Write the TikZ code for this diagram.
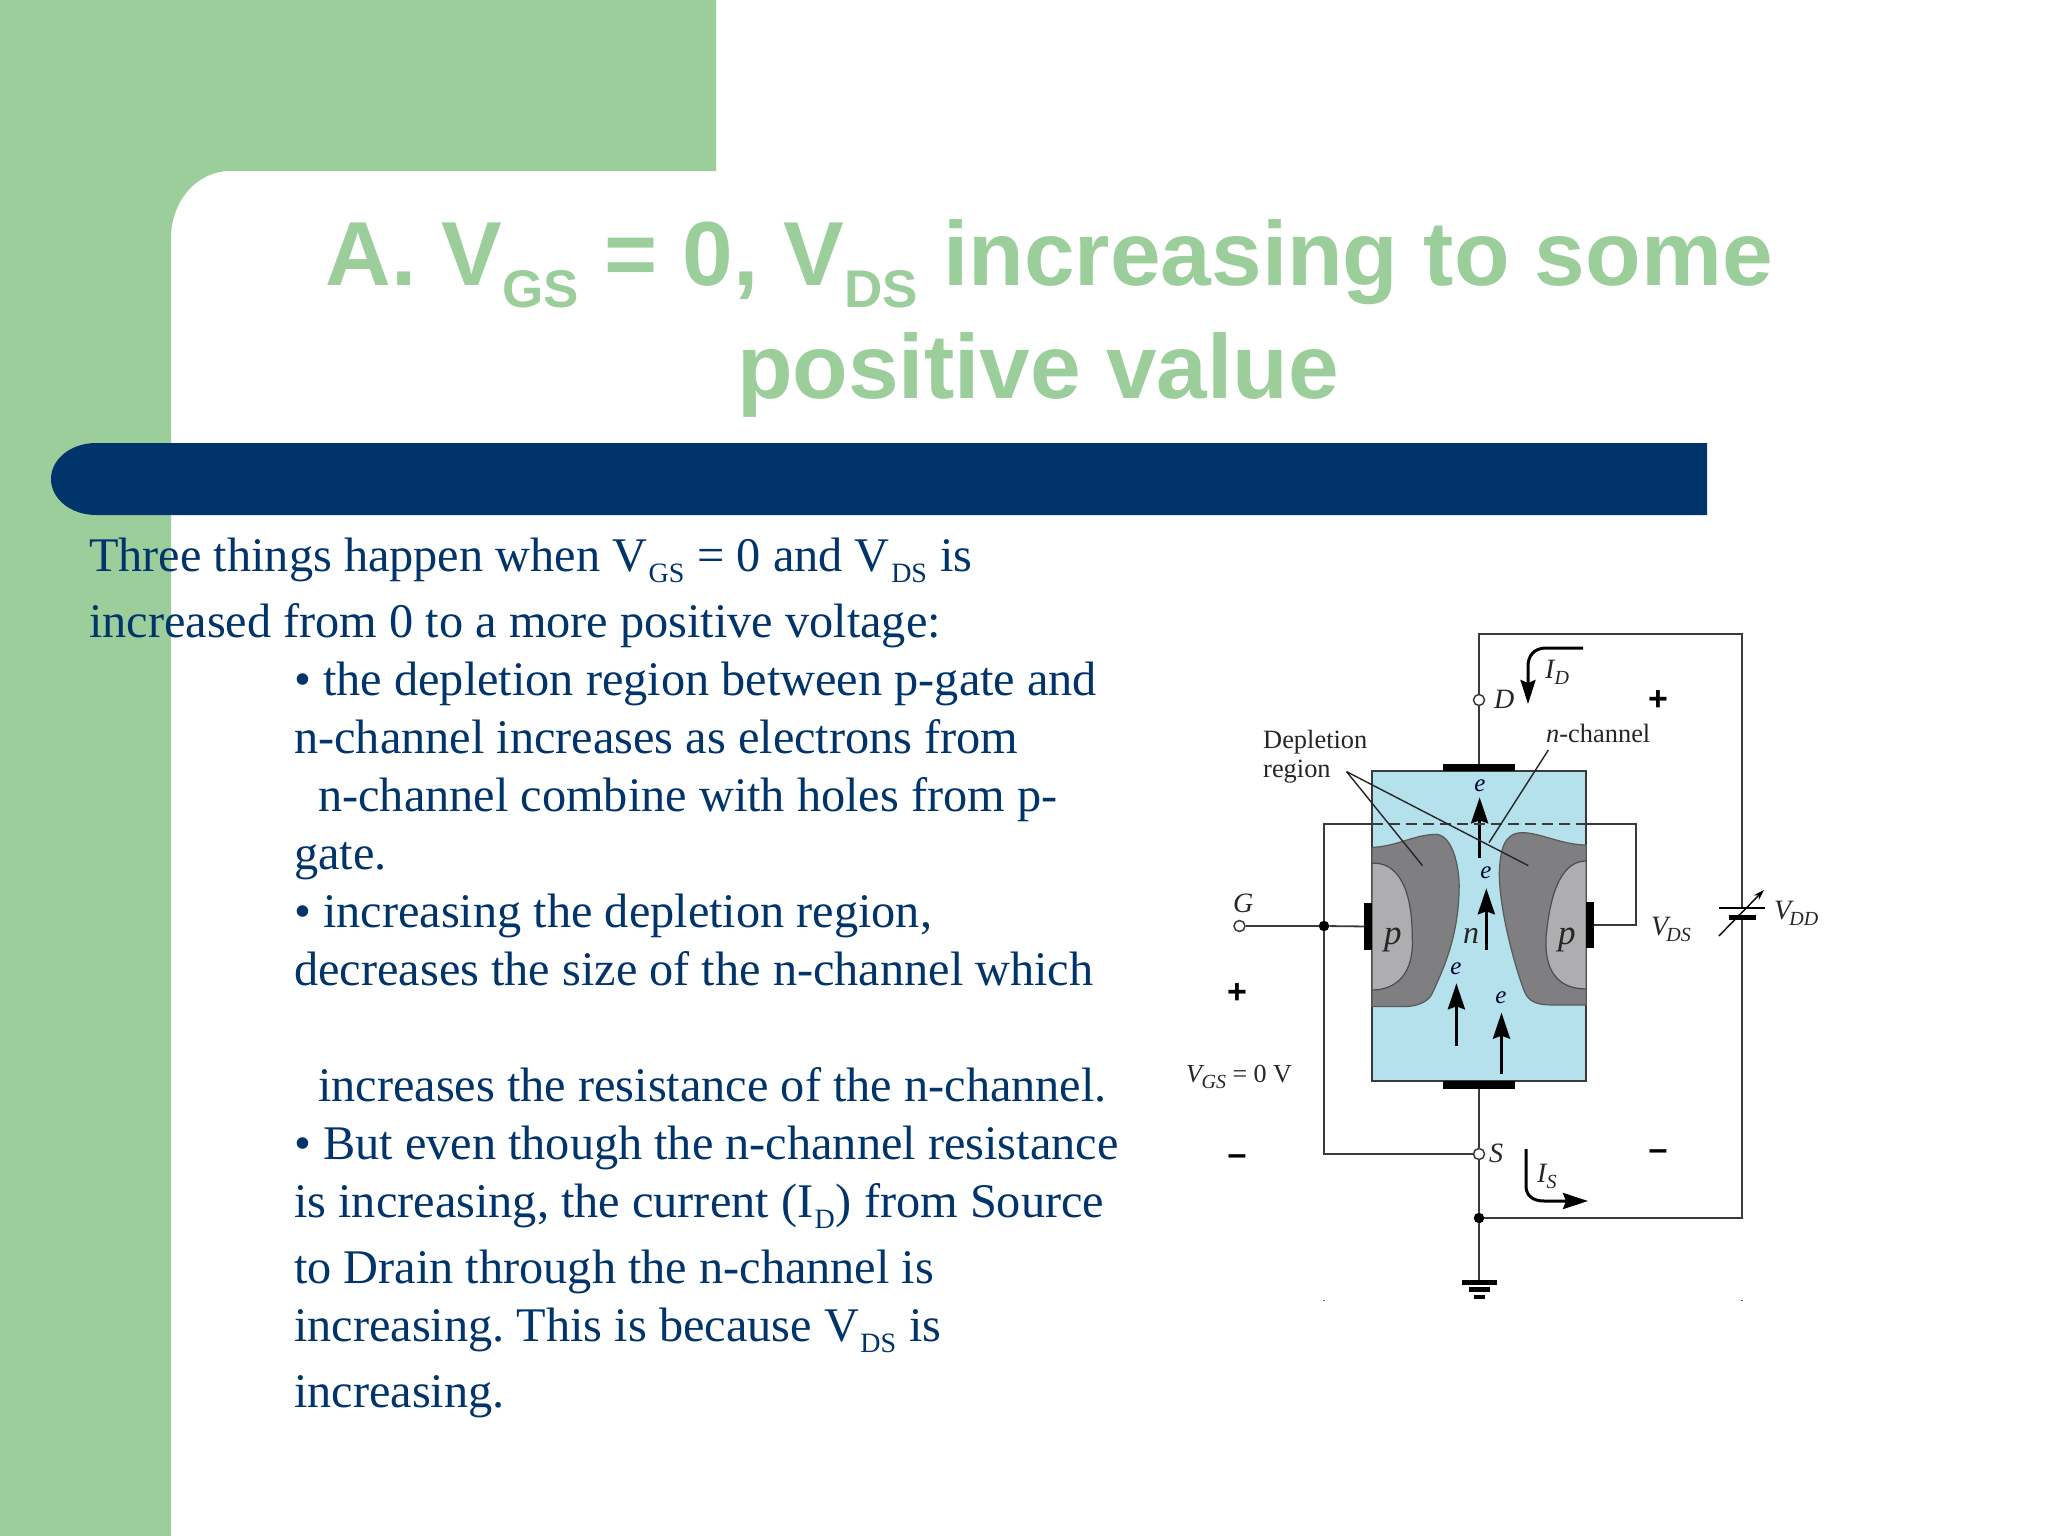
\documentclass[tikz,border=0pt]{standalone}
\usepackage{fontspec}
\usetikzlibrary{arrows.meta}
\setmainfont{Liberation Serif}
\newfontfamily\headfont{Liberation Sans}
\definecolor{slidegreen}{HTML}{9BCE9B}
\definecolor{slidenavy}{HTML}{00346A}
\definecolor{chanblue}{HTML}{B4E1EC}
\definecolor{depdark}{HTML}{7F7F81}
\definecolor{gatelight}{HTML}{AEADAF}
\definecolor{wirecol}{HTML}{3A3A3C}
\newcommand{\lowsub}[3]{\raisebox{#3}{\fontsize{#1}{#1}\selectfont #2}}
\newcommand{\bodysub}[1]{\kern1.5pt\lowsub{28pt}{#1}{-11pt}\kern1pt\relax}
\newcommand{\titlesub}[1]{\lowsub{53pt}{#1}{-22pt}}
\newcommand{\isub}[1]{\lowsub{20pt}{\textit{#1}}{-6pt}}
\frenchspacing
\tikzset{
  body/.style={anchor=base west,inner sep=0pt,text=slidenavy,font=\fontsize{48.3pt}{48.3pt}\selectfont},
  head/.style={anchor=base,inner sep=0pt,text=slidegreen,font=\headfont\bfseries\fontsize{91pt}{91pt}\selectfont},
  lab/.style={anchor=base west,inner sep=0pt,text=black!85,font=\fontsize{26.4pt}{26.4pt}\selectfont},
  ilab/.style={lab,font=\fontsize{28pt}{28pt}\selectfont\itshape},
  elab/.style={anchor=center,inner sep=0pt,text=black!80!blue,font=\fontsize{25pt}{25pt}\selectfont\itshape},
  sign/.style={anchor=center,inner sep=0pt,text=black,font=\headfont\bfseries\fontsize{34pt}{34pt}\selectfont},
  wire/.style={draw=wirecol,line width=1.8pt},
  term/.style={circle,draw=wirecol,fill=white,line width=1.5pt,minimum size=11pt,inner sep=0pt},
  jdot/.style={circle,fill=black,minimum size=10.5pt,inner sep=0pt},
  contact/.style={rectangle,fill=black,inner sep=0pt},
  leader/.style={draw=black!85,line width=1.4pt},
  flow/.style={draw=black,line width=3.4pt,-{Stealth[length=26pt,width=17pt,inset=3pt]}},
}
\begin{document}
\begin{tikzpicture}[x=1pt,y=-1pt]
\useasboundingbox (0,0) rectangle (2048,1536);
% slide background
\fill[white] (0,0) rectangle (2048,1536);
\fill[slidegreen] (0,0) -- (716,0) -- (716,171) -- (230,171)
  .. controls (197,171) and (171,201) .. (171,238) -- (171,1536) -- (0,1536) -- cycle;
\fill[slidenavy] (1707,443) -- (96,443) .. controls (71,443) and (51,459) .. (51,479)
  .. controls (51,499) and (71,515) .. (96,515) -- (1707,515) -- cycle;
% title
\node[head] (t1) at (1049,285) {A. V\titlesub{GS} = 0, V\titlesub{DS} increasing to some};
\node[head] (t2) at (1038,398) {positive value};
% body
\node[body] (b1) at (89,571) {Three things happen when V\bodysub{GS} = 0 and V\bodysub{DS} is};
\node[body] (b2) at (89,637) {increased from 0 to a more positive voltage:};
\node[body] (b3) at (294,695) {• the depletion region between p-gate and};
\node[body] (b4) at (294,753) {n-channel increases as electrons from};
\node[body] (b5) at (318,811) {n-channel combine with holes from p-};
\node[body] (b6) at (294,869) {gate.};
\node[body] (b7) at (294,927) {• increasing the depletion region,};
\node[body] (b8) at (294,985) {decreases the size of the n-channel which};
\node[body] (b9) at (318,1101) {increases the resistance of the n-channel.};
\node[body] (b10) at (294,1159) {• But even though the n-channel resistance};
\node[body] (b11) at (294,1217) {is increasing, the current (I\bodysub{D}) from Source};
\node[body] (b12) at (294,1283) {to Drain through the n-channel is};
\node[body] (b13) at (294,1341) {increasing. This is because V\bodysub{DS} is};
\node[body] (b14) at (294,1407) {increasing.};
% device
\node[rectangle,draw=wirecol,line width=1.5pt,fill=chanblue,minimum width=214pt,minimum height=310pt,inner sep=0pt] (chan) at (1479,926) {};
\begin{scope}[shift={(1160,620)},x=0.4464pt,y=-0.3333pt]
  \filldraw[fill=depdark,draw=black!65,line width=1.2pt] (475,682) .. controls (530,680) and (570,643) .. (620,643)
    .. controls (660,650) and (672,760) .. (670,810)
    .. controls (668,960) and (630,1060) .. (610,1120)
    .. controls (600,1150) and (570,1160) .. (545,1160) -- (475,1160) -- cycle;
  \filldraw[fill=gatelight,draw=black!70,line width=1.2pt] (475,730) .. controls (530,725) and (565,800) .. (565,950)
    .. controls (570,1060) and (530,1110) .. (475,1110) -- cycle;
  \filldraw[fill=depdark,draw=black!65,line width=1.2pt] (955,675) .. controls (900,675) and (850,637) .. (810,638)
    .. controls (770,640) and (762,690) .. (760,760)
    .. controls (760,860) and (790,1020) .. (815,1110)
    .. controls (825,1150) and (850,1155) .. (880,1155) -- (955,1155) -- cycle;
  \filldraw[fill=gatelight,draw=black!70,line width=1.2pt] (955,723) .. controls (905,723) and (875,800) .. (865,950)
    .. controls (860,1050) and (890,1107) .. (955,1107) -- cycle;
  % electron arrows
  \coordinate (f1a) at (716,715); \coordinate (f1b) at (716,532);
  \coordinate (f2a) at (731,990); \coordinate (f2b) at (731,805);
  \coordinate (f3a) at (664,1277); \coordinate (f3b) at (664,1090);
  \coordinate (f4a) at (765,1362); \coordinate (f4b) at (765,1178);
  % leader ends
  \coordinate (dr) at (418,455); \coordinate (drA) at (588,737); \coordinate (drB) at (825,737);
  \coordinate (nc) at (870,390); \coordinate (ncE) at (737,668);
  % battery arrow
  \coordinate (ba) at (1252,948); \coordinate (bb) at (1353,810);
\end{scope}
\draw[flow] (f1a) -- (f1b);
\draw[flow] (f2a) -- (f2b);
\draw[flow] (f3a) -- (f3b);
\draw[flow] (f4a) -- (f4b);
\node[contact,minimum width=71.5pt,minimum height=7pt] (cT) at (1479,767.5) {};
\node[contact,minimum width=71.5pt,minimum height=8pt] (cB) at (1479,1085) {};
\node[contact,minimum width=8pt,minimum height=47pt] (cL) at (1368,926.5) {};
\node[contact,minimum width=8pt,minimum height=46pt] (cR) at (1590,925) {};
% terminals
\node[term] (D) at (1479,700) {};
\node[term] (S) at (1479,1154) {};
\node[term] (G) at (1239.5,926) {};
\node[jdot] (J) at (1324,926) {};
\node[jdot] (K) at (1479,1218) {};
% corners
\coordinate (tl) at (1479,634); \coordinate (tr) at (1742,634);
\coordinate (br) at (1742,1218);
\coordinate (batT) at (1742,908); \coordinate (batB) at (1742,917);
\coordinate (lb) at (1324,1154); \coordinate (lt) at (1324,824);
\coordinate (dl) at (1372,824); \coordinate (dr2) at (1586,824);
\coordinate (rt) at (1636,824); \coordinate (rb) at (1636,925);
\coordinate (gnd) at (1479,1280);
% wires
\draw[wire] (D) -- (cT);
\draw[wire] (D) -- (tl) -- (tr) -- (batT);
\draw[wire] (batB) -- (br) -- (K);
\draw[wire] (cB) -- (S);
\draw[wire] (S) -- (K);
\draw[wire] (K) -- (gnd);
\draw[wire] (S) -- (lb) -- (J);
\draw[wire] (J) -- (lt) -- (dl);
\draw[wire,dash pattern=on 11pt off 6pt] (dl) -- (dr2);
\draw[wire] (dr2) -- (rt) -- (rb) -- (cR);
\draw[wire] (G) -- (J);
\draw[wire] (J) -- (cL);
% battery
\node[contact,minimum width=46pt,minimum height=1.6pt] (pT) at (1742,908) {};
\node[contact,minimum width=27pt,minimum height=5pt] (pB) at (1742,917) {};
\draw[line width=1.4pt,draw=black,-{Stealth[length=11pt,width=7pt]}] (ba) -- (bb);
% ground
\node[contact,minimum width=35pt,minimum height=5pt] (g1) at (1479.5,1282.5) {};
\node[contact,minimum width=21.5pt,minimum height=5pt] (g2) at (1479.5,1289.5) {};
\node[contact,minimum width=10.5pt,minimum height=4.5pt] (g3) at (1479.5,1297) {};
\fill[black!60] (1323.4,1299.5) rectangle (1324.8,1301);
\fill[black!60] (1741.4,1299.5) rectangle (1742.8,1301);
% current arrows
\coordinate (idS) at (1583,648); \coordinate (idE) at (1528,704);
\coordinate (isS) at (1526,1149); \coordinate (isE) at (1588,1201);
\draw[line width=3pt,draw=black,-{Stealth[length=24pt,width=15pt,inset=3pt]}]
  (idS) -- (1546,648) .. controls (1534,648) and (1528,656) .. (1528,666) -- (idE);
\draw[line width=3pt,draw=black,-{Stealth[length=25pt,width=16pt,inset=3pt]}]
  (isS) -- (1526,1186) .. controls (1526,1195) and (1532,1201) .. (1544,1201) -- (isE);
% leaders
\draw[leader] (dr) -- (drA);
\draw[leader] (dr) -- (drB);
\draw[leader] (nc) -- (ncE);
% labels
\node[lab] (l1) at (1263,748) {Depletion};
\node[lab] (l2) at (1263,777) {region};
\node[lab] (l3) at (1546,742) {\textit{n}-channel};
\node[ilab] (lD) at (1494,708) {D};
\node[ilab] (lS) at (1489,1162) {S};
\node[ilab] (lG) at (1233,912) {G};
\node[ilab] (lID) at (1545,678) {I\isub{D}};
\node[ilab] (lIS) at (1537,1182) {I\isub{S}};
\node[ilab] (lVDS) at (1651,935) {V\kern-2pt\isub{DS}};
\node[ilab] (lVDD) at (1774,919) {V\kern-2pt\isub{DD}};
\node[lab] (lVGS) at (1186,1082) {\fontsize{26pt}{26pt}\selectfont\textit{V}\kern-3pt\isub{GS} = 0 V};
\node[ilab,font=\fontsize{35pt}{35pt}\selectfont\itshape] (pL) at (1384,944) {p};
\node[ilab,font=\fontsize{35pt}{35pt}\selectfont\itshape] (pR) at (1558,944) {p};
\node[ilab,font=\fontsize{32pt}{32pt}\selectfont\itshape] (nL) at (1463,943) {n};
\node[elab] (e1) at (1480,786) {e};
\node[elab] (e2) at (1486,873) {e};
\node[elab] (e3) at (1456,969) {e};
\node[elab] (e4) at (1501,998) {e};
\node[sign] (s1) at (1658,701) {+};
\node[sign] (s2) at (1237,994) {+};
\node[sign] (s3) at (1658,1155) {–};
\node[sign] (s4) at (1237,1160) {–};
\end{tikzpicture}
\end{document}
